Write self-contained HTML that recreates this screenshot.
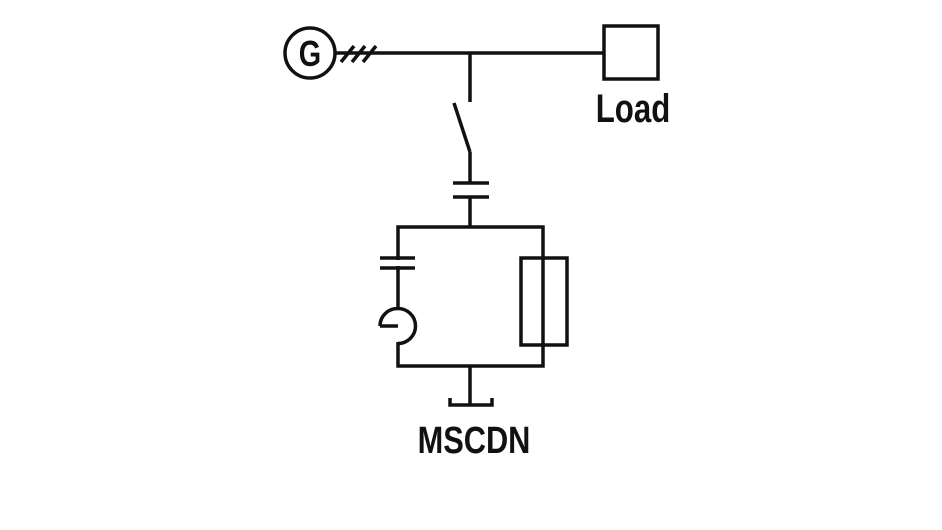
<!DOCTYPE html>
<html><head><style>
html,body{margin:0;padding:0;background:#fff;}
svg{display:block;}
text{font-family:"Liberation Sans",sans-serif;font-weight:bold;fill:#111;}
</style></head><body>
<svg width="942" height="530" viewBox="0 0 942 530" xmlns="http://www.w3.org/2000/svg">
<g stroke="#111" stroke-width="3.5" fill="none">
<circle cx="310" cy="53" r="25"/>
<line x1="335" y1="53" x2="604" y2="53"/>
<line x1="341" y1="62" x2="354" y2="46"/>
<line x1="352" y1="62" x2="365" y2="46"/>
<line x1="363" y1="62" x2="376" y2="46"/>
<rect x="604" y="26" width="54" height="53"/>
<line x1="470" y1="53" x2="470" y2="102"/>
<line x1="454" y1="103" x2="470" y2="152"/>
<line x1="470" y1="152" x2="470" y2="183"/>
<line x1="453" y1="183" x2="489" y2="183"/>
<line x1="453" y1="197" x2="489" y2="197"/>
<line x1="470" y1="197" x2="470" y2="227"/>
<rect x="398" y="227" width="145" height="139"/>
<line x1="380" y1="258" x2="415" y2="258"/>
<line x1="380" y1="268" x2="415" y2="268"/>
</g>
<rect x="396" y="260" width="4" height="6" fill="#fff"/>
<rect x="396" y="310" width="4" height="32" fill="#fff"/>
<g stroke="#111" stroke-width="3.5" fill="none">
<path d="M380 326 A17.5 17.5 0 0 1 398 308.5 A17.5 17.5 0 0 1 398 343.5 M380 326 H398"/>
<rect x="521" y="258" width="46" height="87"/>
<line x1="470" y1="366" x2="470" y2="405"/>
<path d="M450 398 V405 H492 V398"/>
</g>
<text x="0" y="0" font-size="36" text-anchor="middle" transform="translate(310,66) scale(0.8,1)">G</text>
<text x="0" y="0" font-size="40" text-anchor="middle" transform="translate(633,122) scale(0.78,1)">Load</text>
<text x="0" y="0" font-size="38" text-anchor="middle" transform="translate(474,453) scale(0.81,1)">MSCDN</text>
</svg>
</body></html>
